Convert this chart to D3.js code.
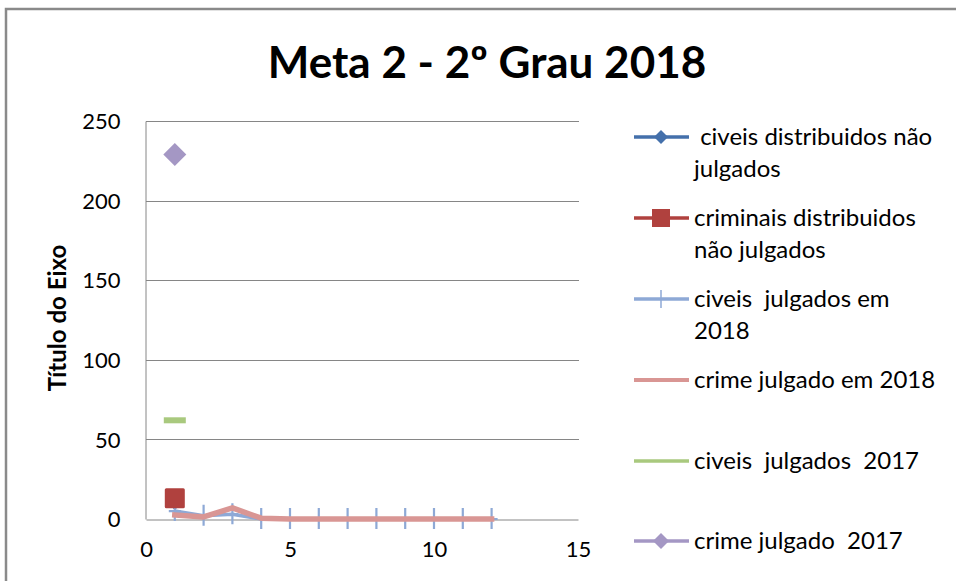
<!DOCTYPE html>
<html><head><meta charset="utf-8">
<script src="https://cdn.jsdelivr.net/npm/d3@7"></script>
<style>body{margin:0;background:#fff}svg{display:block}text{font-family:Lato,"Open Sans",sans-serif}</style>
</head><body>
<svg id="c" width="956" height="581"></svg>
<script>
const title = "Meta 2 - 2º Grau 2018";
const yAxisTitle = "Título do Eixo";
const xTicks = [0, 5, 10, 15];
const yTicks = [0, 50, 100, 150, 200, 250];
const xs = [1,2,3,4,5,6,7,8,9,10,11,12];
const civeisDistribuidos = [10];
const criminaisDistribuidos = [13];
const civeisJulgados2018 = [5, 2, 3, 0, 0, 0, 0, 0, 0, 0, 0, 0];
const crimeJulgado2018 = [2.5, 1.3, 7, 0.5, 0, 0, 0, 0, 0, 0, 0, 0];
const civeisJulgados2017 = [62];
const crimeJulgado2017 = [229];
const seriesNames = [" civeis distribuidos não|julgados", "criminais distribuidos|não julgados", "civeis  julgados em|2018", "crime julgado em 2018", "civeis  julgados  2017", "crime julgado  2017"];
const colors = ["#4470AB", "#B0413E", "#8EA9D6", "#D99694", "#A9C97E", "#A497C4"];

const svg = d3.select("#c");
svg.append("rect").attr("x",6).attr("y",9).attr("width",1000).attr("height",700)
  .attr("fill","none").attr("stroke","#8a8a8a").attr("stroke-width",2.5);

const x = d3.scaleLinear().domain([0,15]).range([146,578]);
const y = d3.scaleLinear().domain([0,250]).range([519,121]);

svg.append("text").attr("x",487).attr("y",78).attr("text-anchor","middle")
  .attr("font-weight","bold").attr("font-size",44).attr("fill","#000").text(title);

// gridlines
svg.append("g").selectAll("line").data(yTicks.filter(d=>d>0)).join("line")
  .attr("x1",146).attr("x2",579).attr("y1",d=>Math.round(y(d))+0.5).attr("y2",d=>Math.round(y(d))+0.5)
  .attr("stroke","#868686").attr("stroke-width",1);

const yAxis = svg.append("g").attr("transform","translate(145.5,0)")
  .call(d3.axisLeft(y).tickValues(yTicks).tickSize(0).tickPadding(25));
const xAxis = svg.append("g").attr("transform","translate(0,519.5)")
  .call(d3.axisBottom(x).tickValues(xTicks).tickSize(0).tickPadding(22));
[yAxis, xAxis].forEach(a=>{
  a.attr("font-size",22).attr("font-family","Lato");
  a.select(".domain").attr("stroke","#868686");
  a.selectAll("text").attr("fill","#000");
});
yAxis.selectAll("text").attr("dy","0.35em");

svg.append("text").attr("transform","translate(66,318) rotate(-90)").attr("text-anchor","middle")
  .attr("font-weight","bold").attr("font-size",24).text(yAxisTitle);

const line = d3.line().x((d,i)=>x(xs[i])).y(d=>y(d));
const diamond = (cx,cy,r)=>`M${cx},${cy-r}L${cx+r},${cy}L${cx},${cy+r}L${cx-r},${cy}Z`;

// civeis distribuidos (hidden under red square)
svg.append("g").selectAll("path").data(civeisDistribuidos).join("path")
  .attr("d",(d,i)=>diamond(x(xs[i]),y(d),7)).attr("fill",colors[0]);

// civeis julgados 2018
svg.append("path").datum(civeisJulgados2018).attr("d",line).attr("fill","none")
  .attr("stroke",colors[2]).attr("stroke-width",3.5).attr("stroke-linejoin","round");
svg.append("g").selectAll("path").data(civeisJulgados2018).join("path")
  .attr("d",(d,i)=>`M${x(xs[i])},${y(d)-11}V${y(d)+10}M${x(xs[i])-6},${y(d)}H${x(xs[i])+6}`)
  .attr("stroke",colors[2]).attr("stroke-width",2.2);

// crime julgado 2018
svg.append("path").datum(crimeJulgado2018).attr("d",line).attr("fill","none")
  .attr("stroke",colors[3]).attr("stroke-width",5.5).attr("stroke-linejoin","round").attr("stroke-linecap","square");

// criminais distribuidos
svg.append("g").selectAll("rect").data(criminaisDistribuidos).join("rect")
  .attr("x",(d,i)=>x(xs[i])-10).attr("y",d=>y(d)-10).attr("width",20).attr("height",20).attr("rx",1.5)
  .attr("fill",colors[1]);

// civeis julgados 2017 (dash marker)
svg.append("g").selectAll("rect").data(civeisJulgados2017).join("rect")
  .attr("x",(d,i)=>x(xs[i])-11).attr("y",d=>y(d)-3).attr("width",22).attr("height",6)
  .attr("fill",colors[4]);

// crime julgado 2017
svg.append("g").selectAll("path").data(crimeJulgado2017).join("path")
  .attr("d",(d,i)=>diamond(x(xs[i]),y(d),11.5)).attr("fill",colors[5]);

// legend
const rowY = [137, 218, 299, 380, 461, 541];
const lg = svg.append("g");
seriesNames.forEach((name,i)=>{
  const cy = rowY[i];
  lg.append("line").attr("x1",634).attr("x2",689).attr("y1",cy).attr("y2",cy)
    .attr("stroke",colors[i]).attr("stroke-width",i===3?4:3.5);
  if(i===0) lg.append("path").attr("d",diamond(661,cy,7)).attr("fill",colors[0]);
  if(i===1) lg.append("rect").attr("x",652).attr("y",cy-9).attr("width",18).attr("height",18).attr("fill",colors[1]);
  if(i===2) lg.append("line").attr("x1",661).attr("x2",661).attr("y1",cy-9).attr("y2",cy+9).attr("stroke",colors[2]).attr("stroke-width",1.5);
  if(i===5) lg.append("path").attr("d",diamond(661,cy,8)).attr("fill",colors[5]);
  const t = lg.append("text").attr("x",694).attr("y",cy+8).attr("font-size",24).attr("fill","#000")
    .attr("xml:space","preserve").style("white-space","pre");
  name.split("|").forEach((s,k)=>{
    t.append("tspan").attr("x",694).attr("dy",k===0?0:32).text(s);
  });
});
</script>
</body></html>
